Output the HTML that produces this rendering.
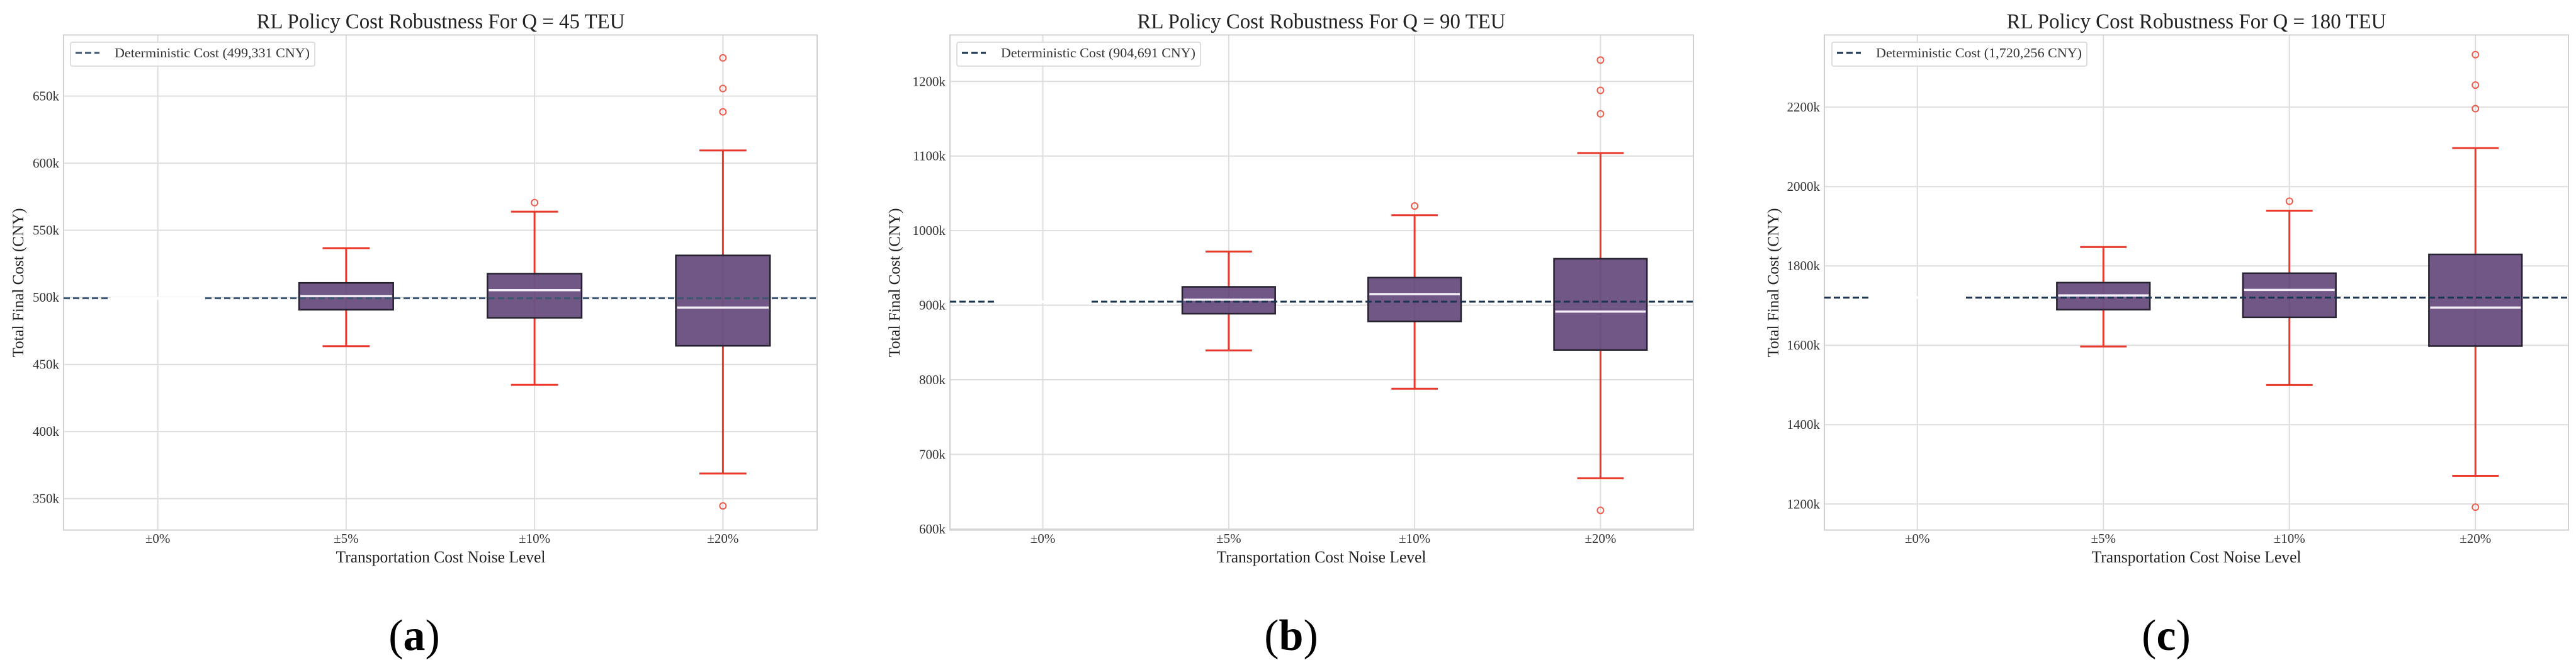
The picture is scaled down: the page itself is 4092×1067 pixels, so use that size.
<!DOCTYPE html>
<html><head><meta charset="utf-8"><style>
html,body{margin:0;padding:0;background:#fff;}
svg{display:block;font-family:"Liberation Serif","DejaVu Serif",serif;}
</style></head><body>
<svg id="fig" width="4092" height="1067" viewBox="0 0 4092 1067" xmlns="http://www.w3.org/2000/svg"></svg>
<script>
// ---- data ----
const categories = ["±0%","±5%","±10%","±20%"];
const titles = ["RL Policy Cost Robustness For Q = 45 TEU","RL Policy Cost Robustness For Q = 90 TEU","RL Policy Cost Robustness For Q = 180 TEU"];
const captionLetters = ["a","b","c"];
const detCost = [499.331, 904.691, 1720.256];
const detLabels = ["Deterministic Cost (499,331 CNY)","Deterministic Cost (904,691 CNY)","Deterministic Cost (1,720,256 CNY)"];
// box stats in k CNY per panel, categories ±5%, ±10%, ±20% : [low whisker, Q1, median, Q3, high whisker]
const boxesA = [[463.6,490.8,501,510.8,536.7],[434.8,484.8,505.4,517.7,563.9],[368.7,463.9,492.4,531.3,609.5]];
const boxesB = [[839.4,888.6,907.4,924.6,972],[788,878.3,914.9,937,1020.6],[668,840,891.4,962.3,1104]];
const boxesC = [[1597,1689.8,1725.5,1757.9,1847.5],[1499.8,1670.4,1739.5,1781.6,1939.3],[1271,1598,1695,1829,2097]];
const outliersA = [[],[570.6],[678.5,655.7,638.3,344.6]];
const outliersB = [[],[1033],[1228.6,1188,1156.6,625]];
const outliersC = [[],[1963],[2332.4,2255.7,2196.3,1192]];
const yTicksA = [350,400,450,500,550,600,650];
const yTicksB = [600,700,800,900,1000,1100,1200];
const yTicksC = [1200,1400,1600,1800,2000,2200];
const yDomA = [326.6,695.6];
const yDomB = [598.6,1262.3];
const yDomC = [1134.4,2382];

const panels = [
 {left:101,right:1298,title:700,tw:585,ylab:29,leg:[112,500],cap:658,det:"#3e5670",boxes:boxesA,out:outliersA,ticks:yTicksA,dom:yDomA},
 {left:1509,right:2690,title:2099,tw:585,ylab:1421,leg:[1520,1907],cap:2051,det:"#1b3550",boxes:boxesB,out:outliersB,ticks:yTicksB,dom:yDomB},
 {left:2898,right:4080,title:3489,tw:603,ylab:2817,leg:[2910,3315],cap:3441,det:"#1b3550",boxes:boxesC,out:outliersC,ticks:yTicksC,dom:yDomC}
];
const TOP=55.5, BOT=841.6;
const svg=document.getElementById('fig');
const NS="http://www.w3.org/2000/svg";
function mk(tag,attrs,parent){const e=document.createElementNS(NS,tag);for(const k in attrs)e.setAttribute(k,attrs[k]);(parent||svg).appendChild(e);return e;}

panels.forEach((p,pi)=>{
  const g=mk('g',{});
  
  
  const xs=i=>p.left+(i+0.5)*(p.right-p.left)/4;
  const bw=(p.right-p.left)/4;
  const ys=v=>BOT-(v-p.dom[0])/(p.dom[1]-p.dom[0])*(BOT-TOP);
  p.ticks.forEach(t=>{
    const l=mk('line',{x1:p.left,x2:p.right,y1:ys(t),y2:ys(t),stroke:"#dedede","stroke-width":2},g);
    
    
    const tx=mk('text',{x:p.left-7,y:ys(t)+7,"text-anchor":"end","font-size":21,fill:"#333"},g);
    
    
    tx.textContent=t+"k";
  });
  categories.forEach((c,i)=>{
    const l=mk('line',{x1:xs(i),x2:xs(i),y1:TOP,y2:BOT,stroke:"#dedede","stroke-width":2},g);
    
    
    const tx=mk('text',{x:xs(i),y:862,"text-anchor":"middle","font-size":21,fill:"#333"},g);
    
    
    tx.textContent=c;
  });
  const fr=mk('rect',{x:p.left,y:TOP,width:p.right-p.left,height:BOT-TOP,fill:"none",stroke:"#d0d0d0","stroke-width":2},g);
  
  
  p.boxes.forEach((b,k)=>{
    const i=k+1, cx=xs(i);
    const wl=mk('line',{x1:cx,x2:cx,y1:ys(b[0]),y2:ys(b[4]),stroke:"#e8392c","stroke-width":3},g);
    
    
    [b[0],b[4]].forEach(v=>{
      const c=mk('line',{x1:cx-bw*0.125,x2:cx+bw*0.125,y1:ys(v),y2:ys(v),stroke:"#e8392c","stroke-width":3},g);
      
      
    });
    const r=mk('rect',{x:cx-bw*0.25,y:ys(b[3]),width:bw*0.5,height:ys(b[1])-ys(b[3]),fill:"#6b5281","fill-opacity":0.97,stroke:"#26222f","stroke-width":2.5},g);
    
    
    const m=mk('line',{x1:cx-bw*0.25+2,x2:cx+bw*0.25-2,y1:ys(b[2]),y2:ys(b[2]),stroke:"#f4eef8","stroke-width":3.5},g);
    
    
    p.out[i-1].forEach(v=>{
      const o=mk('circle',{cx:cx,cy:ys(v),r:5,fill:"none",stroke:"#f05a4a","stroke-width":2},g);
      
      
    });
  });
  const dl=mk('line',{x1:p.left,x2:p.right,y1:ys(detCost[pi]),y2:ys(detCost[pi]),stroke:p.det,"stroke-width":3,"stroke-dasharray":"10 5"},g);
  
  
  const z=mk('line',{x1:xs(0)-bw*0.25,x2:xs(0)+bw*0.25,y1:ys(detCost[pi]),y2:ys(detCost[pi]),stroke:"#fff","stroke-width":4},g);
  
  
  const lg=mk('g',{},g);
  
  
  mk('rect',{x:p.leg[0],y:67,width:p.leg[1]-p.leg[0],height:38,rx:3,fill:"#fff","fill-opacity":0.9,stroke:"#d4d4d4","stroke-width":1.5},lg);
  mk('line',{x1:p.leg[0]+8,x2:p.leg[0]+46,y1:84,y2:84,stroke:p.det,"stroke-width":3,"stroke-dasharray":"10 5"},lg);
  const lt=mk('text',{x:p.leg[0]+70,y:91,"font-size":21,fill:"#333",textLength:p.leg[1]-p.leg[0]-78,lengthAdjust:"spacingAndGlyphs"},lg);
  
  
  lt.textContent=detLabels[pi];
  const t=mk('text',{x:p.title,y:45,"text-anchor":"middle","font-size":34,fill:"#222",textLength:p.tw,lengthAdjust:"spacingAndGlyphs"},g);
  
  
  t.textContent=titles[pi];
  const xl=mk('text',{x:p.title,y:893,"text-anchor":"middle","font-size":26,fill:"#222",textLength:333,lengthAdjust:"spacingAndGlyphs"},g);
  
  
  xl.textContent="Transportation Cost Noise Level";
  const yl=mk('text',{x:0,y:0,"text-anchor":"middle","font-size":25,fill:"#222",textLength:237,lengthAdjust:"spacingAndGlyphs",transform:`translate(${p.ylab+8},449) rotate(-90)`},g);
  
  
  yl.textContent="Total Final Cost (CNY)";
  const cp=mk('text',{x:p.cap,y:1032,"text-anchor":"middle","font-size":70,fill:"#000"},g);
  
  
  const s1=mk('tspan',{},cp); s1.textContent="(";
  const s2=mk('tspan',{"font-weight":"bold"},cp); s2.textContent=captionLetters[pi];
  const s3=mk('tspan',{},cp); s3.textContent=")";
});
</script>
</body></html>
